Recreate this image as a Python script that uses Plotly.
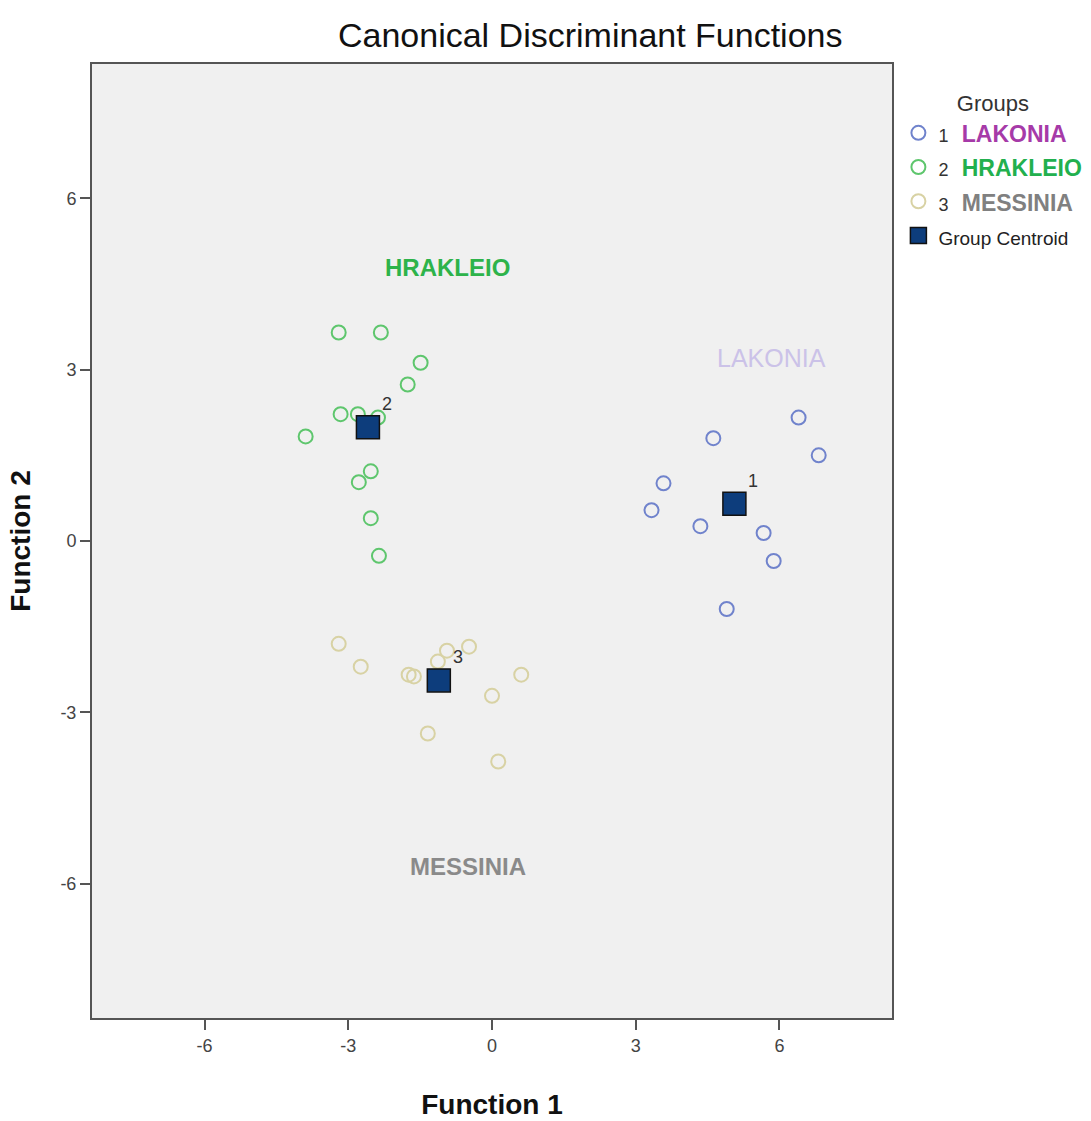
import plotly.graph_objects as go

# ---- data ----
lak_x = [6.40, 4.62, 6.82, 3.58, 3.33, 4.35, 5.67, 5.88, 4.90]
lak_y = [2.16, 1.80, 1.50, 1.01, 0.54, 0.26, 0.14, -0.35, -1.19]

hra_x = [-3.20, -2.32, -1.49, -1.76, -3.16, -2.80, -2.38, -3.89, -2.53, -2.78, -2.53, -2.36]
hra_y = [3.65, 3.65, 3.12, 2.74, 2.22, 2.22, 2.16, 1.83, 1.22, 1.03, 0.40, -0.26]

mes_x = [-3.20, -2.74, -1.74, -1.63, -0.94, -0.48, -1.13, 0.61, 0.00, -1.34, 0.13]
mes_y = [-1.80, -2.20, -2.34, -2.37, -1.92, -1.85, -2.11, -2.34, -2.71, -3.37, -3.86]

cen_x = [5.06, -2.59, -1.11]
cen_y = [0.65, 1.99, -2.44]
cen_labels = ["1", "2", "3"]

group_names = ["LAKONIA", "HRAKLEIO", "MESSINIA"]
group_ids = ["1", "2", "3"]
point_colors = ["#7083cc", "#5ec66d", "#d8d2a4"]
name_colors = ["#a63aa8", "#22b04e", "#808080"]

region_labels = ["HRAKLEIO", "LAKONIA", "MESSINIA"]
region_x = [-0.92, 5.84, -0.50]
region_y = [4.78, 3.21, -5.69]
region_colors = ["#2db34a", "#cbc2e8", "#8a8a8a"]
region_bold = [True, False, True]

ticks = [-6, -3, 0, 3, 6]

FONT = "Liberation Sans, Arial, sans-serif"

fig = go.Figure()

series = [(lak_x, lak_y), (hra_x, hra_y), (mes_x, mes_y)]
for i, (xs, ys) in enumerate(series):
    legend_name = (f"<span style='font-size:18px;color:#333'>{group_ids[i]}</span>  "
                   f"<span style='font-size:23px;color:{name_colors[i]};font-weight:bold'>{group_names[i]}</span>")
    fig.add_trace(go.Scatter(
        x=xs, y=ys, mode="markers", name=legend_name,
        marker=dict(symbol="circle-open", size=14, color=point_colors[i],
                    line=dict(width=2, color=point_colors[i])),
    ))

fig.add_trace(go.Scatter(
    x=cen_x, y=cen_y, mode="markers",
    name="<span style='font-size:19px;color:#222'>Group Centroid</span>",
    marker=dict(symbol="square", size=23, color="#0d3d7c",
                line=dict(width=1.5, color="#111111")),
))

for lbl, x, y in zip(cen_labels, cen_x, cen_y):
    fig.add_annotation(
        x=x, y=y, xref="x", yref="y", showarrow=False, text=lbl,
        xshift=19, yshift=23,
        font=dict(family=FONT, size=18, color="#333333"),
    )

for lbl, x, y, c, b in zip(region_labels, region_x, region_y, region_colors, region_bold):
    fig.add_annotation(
        x=x, y=y, xref="x", yref="y", showarrow=False,
        text=f"<b>{lbl}</b>" if b else lbl,
        font=dict(family=FONT, size=24 if b else 25, color=c),
    )

axis_common = dict(
    range=[-8.35, 8.35], tickvals=ticks, ticktext=[str(t) for t in ticks],
    showgrid=False, zeroline=False, automargin=False,
    showline=True, mirror=True, linecolor="#555555", linewidth=2,
    ticks="outside", ticklen=10, tickwidth=1.5, tickcolor="#555555",
    tickfont=dict(family=FONT, size=18, color="#444444"),
)

fig.update_layout(
    width=1091, height=1121,
    margin=dict(l=92, r=199, t=64, b=103, autoexpand=False),
    paper_bgcolor="white", plot_bgcolor="#f0f0f0",
    title=dict(text="Canonical Discriminant Functions", x=0.541, xanchor="center",
               y=0.969, yanchor="middle", xref="container", yref="container",
               font=dict(family=FONT, size=34, color="#111111")),
    xaxis=dict(**axis_common,
               title=dict(text="<b>Function 1</b>", standoff=40,
                          font=dict(family=FONT, size=28, color="#111111"))),
    yaxis=dict(**axis_common,
               title=dict(text="<b>Function 2</b>", standoff=22,
                          font=dict(family=FONT, size=28, color="#111111"))),
    legend=dict(
        x=1.008, y=0.981, xanchor="left", yanchor="top",
        bgcolor="rgba(0,0,0,0)",
        title=dict(text="Groups", side="top center",
                   font=dict(family=FONT, size=22, color="#333333")),
        font=dict(family=FONT, size=24, color="#333333"),
        tracegroupgap=0, itemwidth=30,
    ),
    showlegend=True,
)

fig.write_html("out.html")
